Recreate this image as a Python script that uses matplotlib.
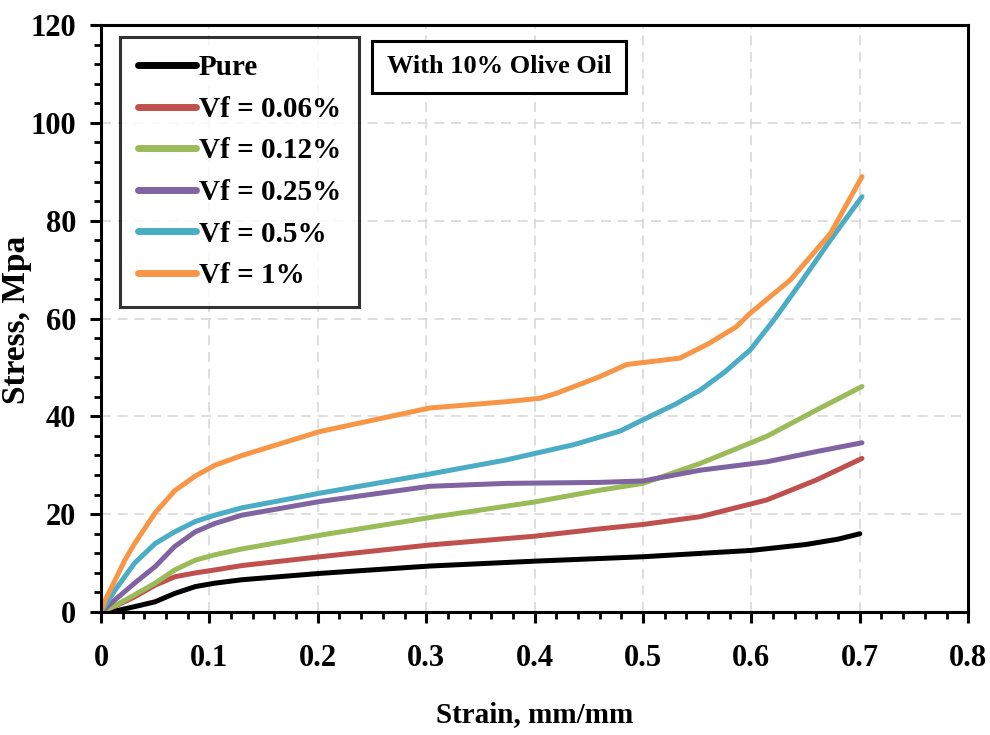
import numpy as np
import matplotlib
matplotlib.use("Agg")
import matplotlib.pyplot as plt
from matplotlib.ticker import MultipleLocator, FixedLocator, FixedFormatter

pure_x = [0, 0.013, 0.031, 0.05, 0.068, 0.087, 0.105, 0.13, 0.202, 0.303, 0.4, 0.5, 0.6, 0.65, 0.68, 0.7]
pure_y = [0, 0.2, 1.1, 2.1, 3.8, 5.2, 5.9, 6.6, 7.9, 9.4, 10.4, 11.3, 12.6, 13.8, 14.9, 16.0]

vf006_x = [0, 0.013, 0.031, 0.05, 0.068, 0.087, 0.105, 0.13, 0.202, 0.303, 0.4, 0.46, 0.5, 0.553, 0.614, 0.66, 0.702]
vf006_y = [0, 1.2, 3.1, 5.5, 7.2, 8.0, 8.6, 9.5, 11.3, 13.7, 15.5, 17.0, 17.9, 19.5, 22.9, 27.0, 31.4]

vf012_x = [0, 0.013, 0.031, 0.05, 0.068, 0.087, 0.105, 0.13, 0.202, 0.303, 0.4, 0.46, 0.5, 0.553, 0.614, 0.66, 0.702]
vf012_y = [0, 1.3, 3.5, 5.9, 8.6, 10.6, 11.7, 12.9, 15.7, 19.3, 22.5, 24.9, 26.3, 30.4, 35.9, 41.3, 46.1]

vf025_x = [0, 0.013, 0.031, 0.05, 0.068, 0.087, 0.105, 0.13, 0.202, 0.303, 0.374, 0.46, 0.5, 0.553, 0.614, 0.66, 0.702]
vf025_y = [0, 2.5, 5.9, 9.3, 13.4, 16.4, 18.1, 19.8, 22.6, 25.7, 26.3, 26.5, 26.8, 29.0, 30.7, 32.8, 34.6]

vf05_x = [0, 0.013, 0.031, 0.05, 0.068, 0.087, 0.105, 0.13, 0.202, 0.303, 0.374, 0.436, 0.479, 0.5, 0.53,
          0.553, 0.575, 0.599, 0.62, 0.645, 0.675, 0.702]
vf05_y = [0, 4.5, 10.0, 14.0, 16.4, 18.5, 19.8, 21.3, 24.3, 28.2, 31.1, 34.2, 37.0, 39.3, 42.5,
          45.4, 49.0, 53.6, 59.5, 67.2, 76.7, 84.9]

vf1_x = [0, 0.004, 0.013, 0.022, 0.031, 0.041, 0.05, 0.068, 0.087, 0.105, 0.13, 0.202, 0.303, 0.374, 0.405,
         0.42, 0.46, 0.485, 0.534, 0.56, 0.586, 0.599, 0.636, 0.673, 0.702]
vf1_y = [0, 2.5, 6.5, 10.6, 14.0, 17.3, 20.3, 24.8, 27.8, 30.0, 32.0, 36.9, 41.7, 43.0, 43.7,
         44.7, 48.1, 50.6, 51.9, 54.8, 58.3, 61.1, 67.9, 77.4, 89.0]

labels = ["Pure", "Vf = 0.06%", "Vf = 0.12%", "Vf = 0.25%", "Vf = 0.5%", "Vf = 1%"]
colors = ["#000000", "#C0504D", "#9BBB59", "#8064A2", "#4BACC6", "#F79646"]
xtick_vals = [0, 0.1, 0.2, 0.3, 0.4, 0.5, 0.6, 0.7, 0.8]
xtick_text = ["0", "0.1", "0.2", "0.3", "0.4", "0.5", "0.6", "0.7", "0.8"]
ytick_vals = [0, 20, 40, 60, 80, 100, 120]

plt.rcParams['font.family'] = ['Liberation Serif', 'DejaVu Serif']
plt.rcParams['font.weight'] = 'bold'

fig = plt.figure(figsize=(9.9, 7.35), dpi=100)
ax = fig.add_axes([0.102, 0.1673, 0.876, 0.7987])

series = [(pure_x, pure_y), (vf006_x, vf006_y), (vf012_x, vf012_y),
          (vf025_x, vf025_y), (vf05_x, vf05_y), (vf1_x, vf1_y)]
for (xs, ys), lab, col in zip(series, labels, colors):
    ax.plot(xs, ys, color=col, lw=3.6, label=lab, solid_capstyle='round', solid_joinstyle='round')

ax.set_xlim(0, 0.8)
ax.set_ylim(0, 120)
ax.xaxis.set_major_locator(FixedLocator(xtick_vals))
ax.xaxis.set_major_formatter(FixedFormatter(xtick_text))
ax.xaxis.set_minor_locator(MultipleLocator(0.02))
ax.yaxis.set_major_locator(FixedLocator(ytick_vals))
ax.yaxis.set_minor_locator(MultipleLocator(4))

ax.grid(True, which='major', color='#d9d9d9', linestyle=(0, (6, 4)), lw=1.2)
ax.set_axisbelow(True)

for s in ax.spines.values():
    s.set_linewidth(2.2)
ax.tick_params(which='major', direction='out', length=8, width=2.2, labelsize=22, pad=10)
ax.tick_params(axis='x', which='major', pad=15)
ax.tick_params(which='minor', direction='out', length=5, width=2.0)

ax.set_xlabel("Strain, mm/mm", fontsize=21, fontweight='bold', labelpad=20)
ax.set_ylabel("Stress, Mpa", fontsize=24, fontweight='bold')
ax.yaxis.set_label_coords(-0.08, 0.497)

leg = ax.legend(loc='upper left', bbox_to_anchor=(0.022, 0.98), fontsize=21, frameon=True,
                fancybox=False, handlelength=2.0, handletextpad=0.1, labelspacing=0.5,
                borderpad=0.6, borderaxespad=0)
leg.get_frame().set_edgecolor('black')
leg.get_frame().set_linewidth(2.2)
for h in leg.get_lines():
    h.set_linewidth(5)

ax.text(0.459, 0.929, "With 10% Olive Oil", transform=ax.transAxes, ha='center', va='center',
        fontsize=19, fontweight='bold',
        bbox=dict(boxstyle='square,pad=0.55', fc='white', ec='black', lw=2.2))

fig.savefig("out.png", dpi=100)
